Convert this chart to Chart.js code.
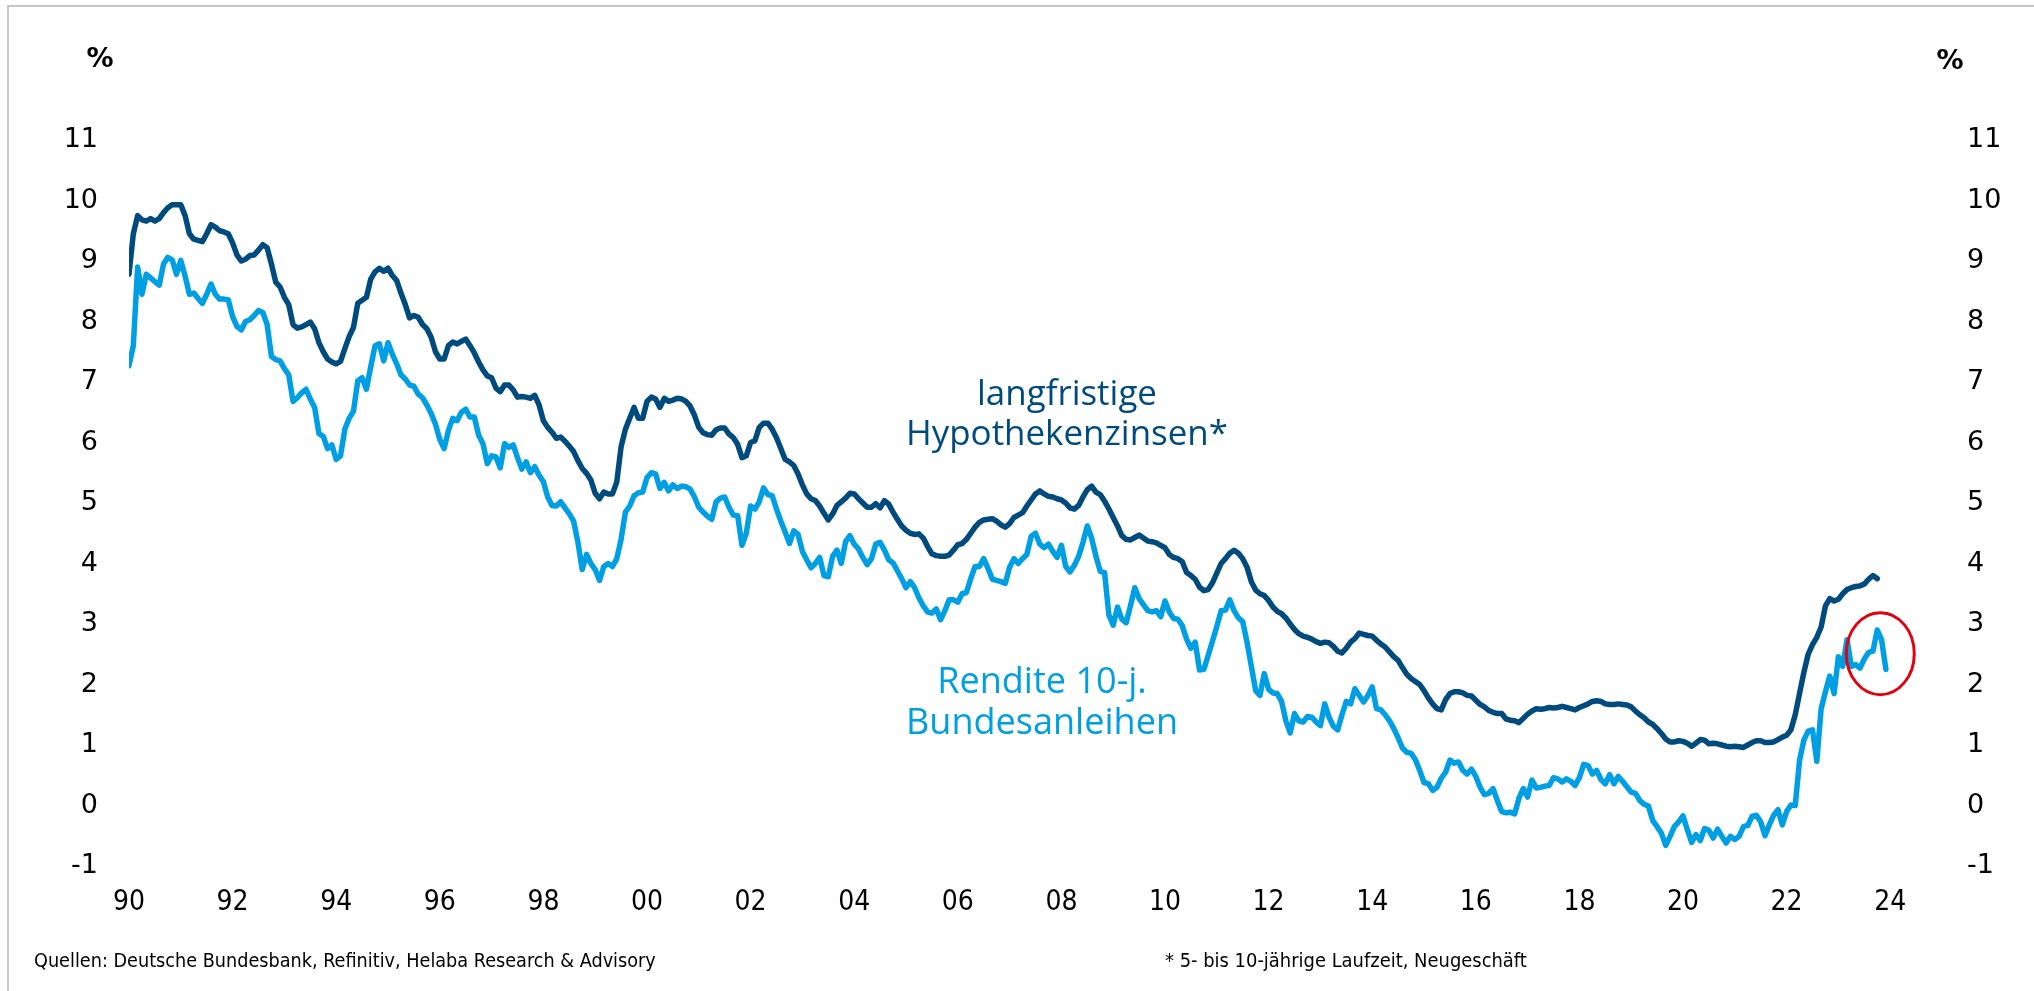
<!DOCTYPE html>
<html>
<head>
<meta charset="utf-8">
<script src="https://cdn.jsdelivr.net/npm/chart.js@4.4.1/dist/chart.umd.min.js"></script>
<style>
  html, body { margin: 0; padding: 0; background: #fff; }
  #frame {
    position: absolute; left: 7px; top: 5px; width: 2040px; height: 1000px;
    border-top: 2px solid #c6c6c6; border-left: 2px solid #c6c6c6;
  }
  canvas { position: absolute; left: 0; top: 0; }
</style>
</head>
<body>
<div id="frame"></div>
<canvas id="zinsChart" width="2034" height="991"></canvas>
<script>
// monthly values, Jan 1990 onwards
const startYear = 1990;
const yearLabels = ['90', '92', '94', '96', '98', '00', '02', '04', '06', '08', '10', '12', '14', '16', '18', '20', '22', '24'];

// langfristige Hypothekenzinsen (5-10 J., Neugeschaeft), Jan 1990 - Okt 2023
const hypoRates = [
  8.78, 9.45, 9.75, 9.68, 9.66, 9.70, 9.66, 9.70, 9.80, 9.88, 9.93, 9.93,
  9.93, 9.75, 9.45, 9.36, 9.34, 9.32, 9.45, 9.60, 9.56, 9.50, 9.48, 9.45,
  9.30, 9.10, 9.00, 9.03, 9.09, 9.10, 9.18, 9.27, 9.22, 8.95, 8.65, 8.57,
  8.40, 8.28, 7.95, 7.89, 7.91, 7.95, 7.99, 7.88, 7.65, 7.50, 7.38, 7.33,
  7.30, 7.34, 7.55, 7.75, 7.90, 8.30, 8.35, 8.40, 8.70, 8.82, 8.88, 8.83,
  8.88, 8.76, 8.68, 8.47, 8.28, 8.06, 8.10, 8.07, 7.95, 7.88, 7.74, 7.50,
  7.38, 7.38, 7.60, 7.66, 7.63, 7.67, 7.71, 7.60, 7.48, 7.33, 7.20, 7.10,
  7.07, 6.90, 6.84, 6.95, 6.95, 6.87, 6.75, 6.76, 6.75, 6.73, 6.78, 6.62,
  6.36, 6.25, 6.17, 6.07, 6.09, 6.02, 5.94, 5.85, 5.70, 5.57, 5.49, 5.38,
  5.16, 5.07, 5.18, 5.15, 5.15, 5.35, 5.93, 6.22, 6.40, 6.58, 6.40, 6.40,
  6.68, 6.75, 6.72, 6.58, 6.73, 6.68, 6.70, 6.73, 6.72, 6.68, 6.60, 6.45,
  6.25, 6.16, 6.13, 6.12, 6.21, 6.24, 6.24, 6.14, 6.08, 5.97, 5.75, 5.78,
  6.00, 6.03, 6.25, 6.32, 6.32, 6.22, 6.08, 5.90, 5.72, 5.68, 5.62, 5.48,
  5.30, 5.15, 5.07, 5.04, 4.95, 4.83, 4.72, 4.82, 4.96, 5.02, 5.08, 5.16,
  5.15, 5.07, 5.00, 4.93, 4.93, 4.99, 4.92, 5.04, 4.98, 4.85, 4.73, 4.62,
  4.55, 4.50, 4.48, 4.49, 4.42, 4.28, 4.16, 4.13, 4.12, 4.12, 4.14, 4.22,
  4.31, 4.33, 4.40, 4.50, 4.60, 4.68, 4.72, 4.73, 4.74, 4.70, 4.64, 4.60,
  4.66, 4.76, 4.80, 4.84, 4.95, 5.05, 5.15, 5.20, 5.15, 5.11, 5.10, 5.07,
  5.05, 5.00, 4.92, 4.90, 4.96, 5.10, 5.22, 5.28, 5.18, 5.14, 5.03, 4.90,
  4.76, 4.62, 4.46, 4.40, 4.39, 4.43, 4.47, 4.42, 4.37, 4.36, 4.34, 4.30,
  4.26, 4.15, 4.10, 4.08, 4.03, 3.85, 3.80, 3.74, 3.61, 3.55, 3.57, 3.68,
  3.84, 4.00, 4.08, 4.17, 4.22, 4.17, 4.08, 3.94, 3.70, 3.56, 3.50, 3.47,
  3.39, 3.28, 3.21, 3.17, 3.10, 3.00, 2.91, 2.84, 2.80, 2.78, 2.75, 2.71,
  2.68, 2.70, 2.69, 2.63, 2.55, 2.52, 2.60, 2.70, 2.76, 2.85, 2.83, 2.81,
  2.80, 2.73, 2.67, 2.62, 2.54, 2.46, 2.40, 2.28, 2.17, 2.10, 2.05, 2.00,
  1.90, 1.78, 1.68, 1.60, 1.58, 1.75, 1.85, 1.88, 1.88, 1.86, 1.82, 1.81,
  1.74, 1.67, 1.63, 1.57, 1.54, 1.52, 1.52, 1.43, 1.41, 1.40, 1.37, 1.44,
  1.51, 1.56, 1.60, 1.59, 1.60, 1.62, 1.61, 1.62, 1.64, 1.62, 1.60, 1.58,
  1.62, 1.65, 1.68, 1.72, 1.73, 1.72, 1.68, 1.67, 1.67, 1.68, 1.67, 1.66,
  1.63, 1.56, 1.50, 1.45, 1.38, 1.34, 1.27, 1.19, 1.10, 1.05, 1.05, 1.07,
  1.06, 1.03, 0.98, 1.03, 1.09, 1.08, 1.02, 1.03, 1.02, 1.00, 0.98, 0.97,
  0.98, 0.97, 0.96, 1.00, 1.04, 1.07, 1.07, 1.04, 1.04, 1.05, 1.09, 1.13,
  1.16, 1.25, 1.50, 1.85, 2.20, 2.50, 2.66, 2.78, 2.95, 3.30, 3.42, 3.38,
  3.41, 3.50, 3.57, 3.60, 3.62, 3.63, 3.66, 3.74, 3.80, 3.75
];

// Rendite 10-j. Bundesanleihen, Jan 1990 - Dez 2023
const bundYields = [
  7.27, 7.60, 8.90, 8.45, 8.78, 8.72, 8.66, 8.60, 8.95, 9.06, 9.02, 8.78,
  9.01, 8.75, 8.45, 8.47, 8.38, 8.30, 8.45, 8.62, 8.45, 8.37, 8.37, 8.36,
  8.08, 7.92, 7.86, 8.00, 8.03, 8.10, 8.18, 8.15, 7.95, 7.42, 7.37, 7.35,
  7.22, 7.12, 6.68, 6.74, 6.82, 6.88, 6.72, 6.58, 6.15, 6.10, 5.90, 5.96,
  5.72, 5.78, 6.22, 6.40, 6.52, 7.02, 7.07, 6.88, 7.25, 7.60, 7.63, 7.35,
  7.65, 7.46, 7.30, 7.12, 7.05, 6.95, 6.93, 6.80, 6.74, 6.62, 6.48, 6.30,
  6.05, 5.90, 6.20, 6.40, 6.36, 6.50, 6.55, 6.42, 6.42, 6.12, 5.98, 5.65,
  5.78, 5.76, 5.58, 5.98, 5.92, 5.96, 5.75, 5.56, 5.68, 5.50, 5.60, 5.46,
  5.35, 5.10, 4.96, 4.95, 5.02, 4.92, 4.82, 4.70, 4.35, 3.90, 4.15, 4.00,
  3.90, 3.72, 3.95, 4.00, 3.95, 4.08, 4.40, 4.85, 4.95, 5.12, 5.17, 5.18,
  5.42, 5.50, 5.48, 5.24, 5.34, 5.20, 5.30, 5.24, 5.28, 5.27, 5.23, 5.10,
  4.93, 4.85, 4.78, 4.73, 5.02, 5.08, 5.10, 4.93, 4.80, 4.79, 4.30, 4.50,
  4.95, 4.90, 5.02, 5.25, 5.14, 5.12, 4.90, 4.70, 4.52, 4.33, 4.54, 4.48,
  4.20, 4.06, 3.93, 4.00, 4.10, 3.80, 3.78, 4.12, 4.22, 4.00, 4.36, 4.46,
  4.32, 4.24, 4.10, 3.98, 4.08, 4.32, 4.35, 4.22, 4.06, 4.01, 3.88, 3.75,
  3.60, 3.70, 3.60, 3.43, 3.30, 3.20, 3.18, 3.25, 3.07, 3.22, 3.40, 3.40,
  3.36, 3.50, 3.52, 3.75, 3.95, 3.95, 4.08, 3.92, 3.74, 3.72, 3.70, 3.67,
  3.94, 4.08, 4.00, 4.08, 4.15, 4.45, 4.50, 4.32, 4.26, 4.32, 4.20, 4.10,
  4.30, 3.95, 3.86, 3.97, 4.12, 4.35, 4.62, 4.42, 4.12, 3.87, 3.85, 3.15,
  2.98, 3.28, 3.08, 3.02, 3.30, 3.60, 3.42, 3.32, 3.22, 3.20, 3.22, 3.12,
  3.38, 3.20, 3.09, 3.08, 2.97, 2.75, 2.60, 2.70, 2.24, 2.25, 2.48, 2.72,
  2.96, 3.22, 3.23, 3.40, 3.22, 3.10, 3.04, 2.70, 2.30, 1.90, 1.82, 2.18,
  1.92, 1.86, 1.85, 1.72, 1.40, 1.20, 1.52, 1.40, 1.38, 1.47, 1.46, 1.38,
  1.32, 1.68, 1.46, 1.31, 1.25, 1.50, 1.72, 1.68, 1.93, 1.82, 1.71, 1.82,
  1.96, 1.60, 1.58, 1.50, 1.40, 1.27, 1.12, 0.95, 0.88, 0.86, 0.76, 0.58,
  0.38, 0.36, 0.25, 0.30, 0.45, 0.55, 0.75, 0.70, 0.72, 0.58, 0.52, 0.60,
  0.48, 0.30, 0.18, 0.20, 0.28, 0.08, -0.10, -0.12, -0.11, -0.14, 0.12, 0.28,
  0.14, 0.42, 0.29, 0.30, 0.32, 0.33, 0.46, 0.44, 0.39, 0.44, 0.40, 0.33,
  0.46, 0.68, 0.66, 0.52, 0.58, 0.43, 0.36, 0.51, 0.36, 0.48, 0.40, 0.31,
  0.22, 0.20, 0.08, 0.02, -0.01, -0.25, -0.35, -0.46, -0.66, -0.51, -0.35, -0.27,
  -0.17, -0.40, -0.61, -0.48, -0.58, -0.38, -0.41, -0.54, -0.39, -0.51, -0.62, -0.51,
  -0.56, -0.51, -0.35, -0.33, -0.18, -0.16, -0.27, -0.50, -0.32, -0.16, -0.07, -0.32,
  -0.10, 0.01, 0.00, 0.75, 1.08, 1.23, 1.25, 0.73, 1.60, 1.88, 2.14, 1.85,
  2.46, 2.30, 2.74, 2.30, 2.33, 2.27, 2.42, 2.53, 2.55, 2.90, 2.74, 2.25
];

const navy = '#004b7d';
const lightBlue = '#009fe3';
const narrowFont = '"Liberation Sans Narrow", "DejaVu Sans Condensed", "Roboto Condensed", sans-serif';
const labelFont = '"Open Sans", "Noto Sans", sans-serif';

// font size (px) at which text reaches the given width
function fitSize(ctx, text, width, family) {
  ctx.font = '100px ' + family;
  return 100 * width / ctx.measureText(text).width;
}

// two centred lines in one size, sized so the longer one fills `width`
function drawLabel(ctx, lines, cx, baseline, lineGap, width, color) {
  const size = fitSize(ctx, lines[1], width, labelFont);
  ctx.font = size.toFixed(2) + 'px ' + labelFont;
  ctx.fillStyle = color;
  ctx.textAlign = 'center';
  ctx.textBaseline = 'alphabetic';
  lines.forEach((t, i) => ctx.fillText(t, cx, baseline + i * lineGap));
}

function drawNote(ctx, text, x, y, width) {
  const size = fitSize(ctx, text, width, narrowFont);
  ctx.font = size.toFixed(2) + 'px ' + narrowFont;
  ctx.fillStyle = '#000';
  ctx.textAlign = 'left';
  ctx.textBaseline = 'alphabetic';
  ctx.fillText(text, x, y);
}

const decorPlugin = {
  id: 'decor',
  afterDatasetsDraw(chart) {
    const ctx = chart.ctx;
    const xs = chart.scales.x, ys = chart.scales.y;
    ctx.save();

    // red circle around the latest Bund yields
    ctx.strokeStyle = '#e3000f';
    ctx.lineWidth = 3;
    ctx.beginPath();
    ctx.ellipse(xs.getPixelForValue(405.7), ys.getPixelForValue(2.51), 34, 41, 0, 0, Math.PI * 2);
    ctx.stroke();

    // series labels
    drawLabel(ctx, ['langfristige', 'Hypothekenzinsen*'], 1067, 405, 40, 322, navy);
    drawLabel(ctx, ['Rendite 10-j.', 'Bundesanleihen'], 1042, 693, 41, 272, lightBlue);

    // unit labels
    ctx.fillStyle = '#000';
    ctx.font = 'bold 27px "DejaVu Sans"';
    ctx.textAlign = 'center';
    ctx.textBaseline = 'middle';
    ctx.fillText('%', 100, 60);
    ctx.fillText('%', 1950, 62);

    // footnotes
    drawNote(ctx, 'Quellen: Deutsche Bundesbank, Refinitiv, Helaba Research & Advisory', 34, 967, 622);
    drawNote(ctx, '* 5- bis 10-jährige Laufzeit, Neugeschäft', 1165, 967, 362);
    ctx.restore();
  }
};

const hideGrid = { display: false, drawTicks: false };
const yTickFont = { family: '"DejaVu Sans"', size: 27 };

new Chart(document.getElementById('zinsChart'), {
  type: 'line',
  data: {
    datasets: [
      {
        label: 'langfristige Hypothekenzinsen*',
        data: hypoRates.map((v, i) => ({ x: i, y: v })),
        borderColor: navy,
        borderWidth: 5.5,
        pointRadius: 0,
        borderJoinStyle: 'round',
        borderCapStyle: 'round',
        tension: 0
      },
      {
        label: 'Rendite 10-j. Bundesanleihen',
        data: bundYields.map((v, i) => ({ x: i, y: v })),
        borderColor: lightBlue,
        borderWidth: 5.5,
        pointRadius: 0,
        borderJoinStyle: 'round',
        borderCapStyle: 'round',
        tension: 0
      }
    ]
  },
  options: {
    responsive: false,
    animation: false,
    devicePixelRatio: 1,
    layout: { padding: { top: 140, left: 0, right: 0, bottom: 0 } },
    plugins: {
      legend: { display: false },
      tooltip: { enabled: false }
    },
    scales: {
      x: {
        type: 'linear',
        min: 0,
        max: 420,
        grid: hideGrid,
        border: { display: false },
        afterBuildTicks: scale => {
          scale.ticks = yearLabels.map((l, i) => ({ value: i * 24 }));
        },
        afterFit: scale => { scale.height = 125; },
        ticks: {
          autoSkip: false,
          maxRotation: 0,
          padding: 20,
          color: '#000',
          font: { family: narrowFont, size: 28 },
          callback: value => yearLabels[Math.round(value / 24)]
        }
      },
      y: {
        position: 'left',
        min: -1,
        max: 11,
        grid: hideGrid,
        border: { display: false },
        afterFit: scale => { scale.width = 129; },
        ticks: { stepSize: 1, padding: 31, color: '#000', font: yTickFont }
      },
      y2: {
        position: 'right',
        min: -1,
        max: 11,
        grid: hideGrid,
        border: { display: false },
        afterFit: scale => { scale.width = 92; },
        ticks: { stepSize: 1, padding: 25, color: '#000', font: yTickFont }
      }
    }
  },
  plugins: [decorPlugin]
});
</script>
</body>
</html>
